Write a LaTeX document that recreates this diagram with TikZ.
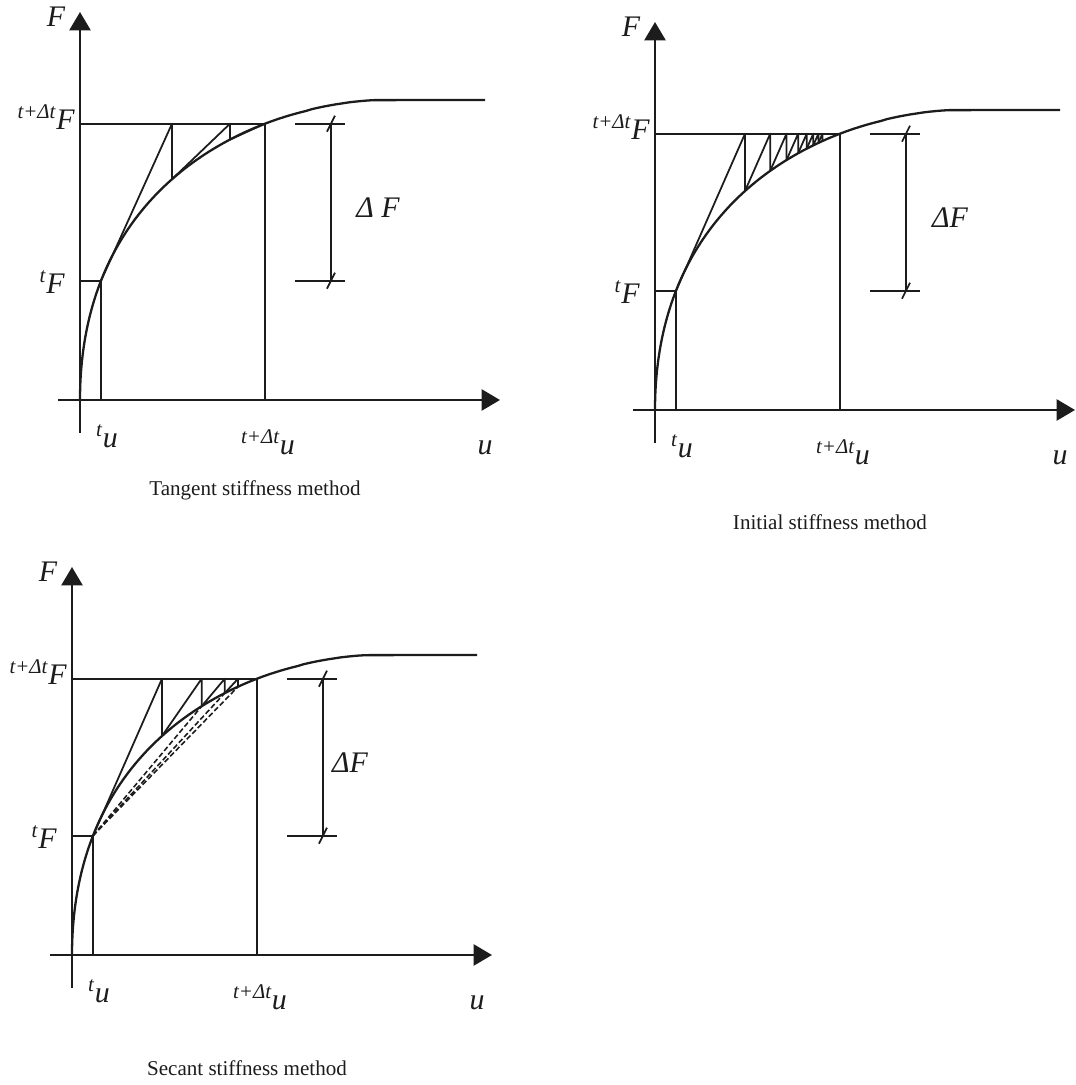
\documentclass[tikz,border=0pt]{standalone}
\usepackage{fontspec}
\setmainfont{Liberation Serif}
\usepackage{tikz}
\usetikzlibrary{arrows.meta}
\definecolor{InkBlack}{HTML}{1C1C1C}
% axes, curve, guide lines and labels shared by the three sketches
\newcommand{\stiffframe}[4]{%
  \draw[ax] (-22,0) -- (420,0);
  \draw[ax] (0,-33) -- (0,388);
  \draw[crv] plot[domain=0:0.99,samples=90] ({300*\x*\x},{300*(1-(1-\x)^1.65)}) -- (405,300);
  \coordinate (tF) at (21,{fc(21)});
  \coordinate (top) at (185,{fc(185)});
  \draw[ln] (0,{fc(21)}) -- (tF) -- (21,0);
  \draw[ln] (0,{fc(185)}) -- (top) -- (185,0);
  \draw[ln] (215,{fc(185)}) -- (265,{fc(185)}) (215,{fc(21)}) -- (265,{fc(21)});
  \draw[ln] (251,{fc(185)}) -- (251,{fc(21)});
  \draw[ln] (247,{fc(185)-8}) -- (255,{fc(185)+8}) (247,{fc(21)-8}) -- (255,{fc(21)+8});
  \node[lbl] (Fax) at (-24,383) {F};
  \node[lbl,anchor=base east] (Fnew) at (-5,270) {\textsuperscript{t+Δt}F};
  \node[lbl,anchor=base east] (Fold) at (-15,{fc(21)-13}) {\textsuperscript{t}F};
  \node[lbl,anchor=base] (uold) at (27,-48) {\textsuperscript{t}u};
  \node[lbl,anchor=base] (unew) at (188,-55) {\textsuperscript{t+Δt}u};
  \node[lbl,anchor=base] (uax) at (405,-55) {u};
  \node[lbl] (dF) at (#4,192) {#3};
  \node[captxt] (title) at (175,#2) {#1};
}

\begin{document}
\begin{tikzpicture}[x=0.02cm,y=0.02cm,line join=round,
  declare function={fc(\u)=300*(1-(1-sqrt(\u/300))^1.65);},
  ax/.style={line width=1.5pt,InkBlack,-{Triangle[length=10.5pt,width=12pt]}},
  ln/.style={line width=1pt,InkBlack},
  crv/.style={line width=1.3pt,InkBlack},
  dsh/.style={line width=0.9pt,InkBlack,dash pattern=on 3pt off 1.5pt},
  lbl/.style={inner sep=0,InkBlack,font=\fontsize{17}{17}\selectfont\itshape},
  captxt/.style={inner sep=0,InkBlack,font=\fontsize{12}{14}\selectfont}]
\useasboundingbox (0,0) rectangle (1075,1085);

% tangent stiffness
\begin{scope}[shift={(80,685)}]
\stiffframe{Tangent stiffness method}{-90}{Δ F}{298}
\draw[ln] (tF) -- (92,{fc(185)}) -- (92,{fc(92)}) -- (150,{fc(185)}) -- (150,{fc(150)}) -- (top);
\end{scope}

% initial stiffness
\begin{scope}[shift={(655,675)}]
\stiffframe{Initial stiffness method}{-112}{ΔF}{295}
\pgfmathsetmacro\kinit{(fc(185)-fc(21))/(90-21)}
\xdef\ua{21}
\foreach \i in {1,...,8}{
  \pgfmathsetmacro\ub{\ua+(fc(185)-fc(\ua))/\kinit}
  \draw[ln] (\ua,{fc(\ua)}) -- (\ub,{fc(185)}) -- (\ub,{fc(\ub)});
  \xdef\ua{\ub}
}
\end{scope}

% secant stiffness
\begin{scope}[shift={(72,130)}]
\stiffframe{Secant stiffness method}{-113}{ΔF}{278}
\draw[ln] (tF) -- (90,{fc(185)}) -- (90,{fc(90)});
\xdef\ua{90}
\foreach \i in {1,...,3}{
  \pgfmathsetmacro\ksec{(fc(\ua)-fc(21))/(\ua-21)}
  \pgfmathsetmacro\ub{\ua+(fc(185)-fc(\ua))/\ksec}
  \draw[ln] (\ua,{fc(\ua)}) -- (\ub,{fc(185)}) -- (\ub,{fc(\ub)});
  \draw[dsh] (tF) -- (\ub,{fc(\ub)});
  \xdef\ua{\ub}
}
\end{scope}
\end{tikzpicture}
\end{document}
